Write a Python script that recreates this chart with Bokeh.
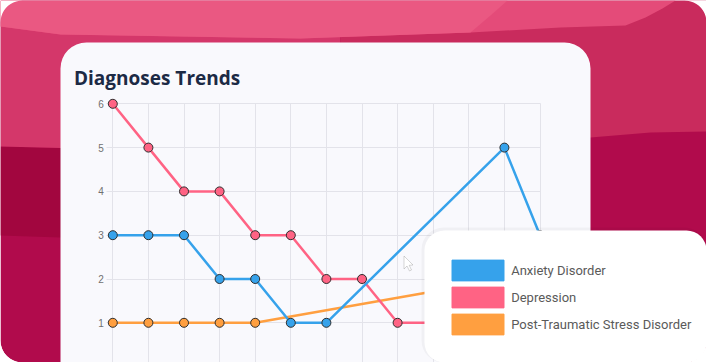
import numpy as np
from bokeh.plotting import figure
from bokeh.models import (Range1d, FixedTicker, BoxAnnotation, PolyAnnotation, Label,
                          Legend, LegendItem, ColumnDataSource)
from bokeh.core.properties import value
from bokeh.embed import file_html
from bokeh.resources import INLINE

# ---------------- data ----------------
steps = list(range(13))
anxiety = [3, 3, 3, 2, 2, 1, 1, None, None, None, None, 5, 3]
depression = [6, 5, 4, 4, 3, 3, 2, 2, 1, 1, 1, 1, 1]
ptsd = [1, 1, 1, 1, 1, None, None, None, None, None, None, 2, 2]
series_names = ["Anxiety Disorder", "Depression", "Post-Traumatic Stress Disorder"]
series_values = [anxiety, depression, ptsd]
series_colors = ["#36A2EB", "#FF6384", "#FF9F40"]
y_ticks = [1, 2, 3, 4, 5, 6]
title_text = "Diagnoses Trends"

W, H = 706, 362
OX, OY = 0, 0

# pixel geometry of the chart area (picture coordinates)
PX0, PX12 = 112.3, 539.5      # x of step 0 and step 12
PY6, PY1 = 103.3, 322.3       # y of value 6 and value 1
ux = (PX12 - PX0) / 12.0
uy = (PY1 - PY6) / 5.0
x_start = -(PX0 - OX) / ux
x_end = x_start + W / ux
y_end = 6 + (PY6 - OY) / uy
y_start = y_end - H / uy


def X(xr):
    return xr - OX


def Y(yr):
    return yr - OY


p = figure(width=W, height=H, output_backend="svg", toolbar_location=None,
           x_range=Range1d(x_start, x_end), y_range=Range1d(y_start, y_end),
           x_axis_location=None, y_axis_location=None,
           min_border=0, border_fill_color="white", background_fill_alpha=0,
           outline_line_color=None)


def box(l, r, t, b, color, radius=0, level="guide", alpha=1.0, line=None):
    return BoxAnnotation(left=X(l), right=X(r), top=Y(t), bottom=Y(b),
                         left_units="canvas", right_units="canvas",
                         top_units="canvas", bottom_units="canvas",
                         fill_color=color, fill_alpha=alpha, line_color=line,
                         border_radius=radius, level=level)


def poly(pts, color, level="guide", line=None, lw=1):
    return PolyAnnotation(xs=[X(a) for a, _ in pts], ys=[Y(b) for _, b in pts],
                          xs_units="canvas", ys_units="canvas",
                          fill_color=color, fill_alpha=1, line_color=line, line_width=lw,
                          level=level)


def corner_mask(cx, cy, r, a0, a1, corner):
    t = np.linspace(np.radians(a0), np.radians(a1), 12)
    pts = [corner] + [(cx + r * np.cos(a), cy + r * np.sin(a)) for a in t]
    return poly(pts, "white")


decor = []
# pink panel base
decor.append(box(0, 706, 0, 362, "#b10b4c", radius=22))
# dark left band
decor.append(poly([(0, 146), (60, 147.5), (200, 151), (330, 153), (330, 245), (200, 241),
                   (60, 237), (0, 235)], "#a2063f"))
# middle band left / right
decor.append(poly([(0, 0), (340, 0), (340, 150), (200, 149), (60, 147.5), (0, 146)], "#d4376a"))
decor.append(poly([(340, 0), (706, 0), (706, 131), (650, 132), (590, 137), (460, 144),
                   (340, 150)], "#c92b5d"))
# top band
decor.append(poly([(0, 0), (675, 0), (662, 8), (645, 17), (625, 25), (560, 27), (470, 32),
                   (300, 38), (60, 34), (0, 26)], "#e44b79"))
decor.append(poly([(0, 0), (507, 0), (490, 15), (470, 32), (300, 38), (60, 34), (0, 26)],
                  "#ea5882"))
# rounded corners of the panel
decor.append(corner_mask(22, 22, 22, 180, 270, (0, 0)))
decor.append(corner_mask(684, 22, 22, 270, 360, (706, 0)))
decor.append(corner_mask(22, 340, 22, 90, 180, (0, 362)))
# main card
decor.append(box(60, 590, 42, 430, "#f9f9fd", radius=26))

title = Label(x=X(73.5), y=Y(77.3), x_units="canvas", y_units="canvas", text=title_text,
              text_font="Open Sans", text_font_style="bold", text_font_size="19px",
              text_color="#1c2a45", text_baseline="alphabetic", level="guide")
decor.append(title)

# grids (drawn over the card)
p.xgrid.ticker = FixedTicker(ticks=steps)
p.ygrid.ticker = FixedTicker(ticks=y_ticks)
for g in list(p.xgrid) + list(p.ygrid):
    g.grid_line_color = "#e3e3ea"
    g.grid_line_width = 1
    g.level = "guide"
p.xgrid.bounds = (steps[0], steps[-1])
p.xgrid.cross_bounds = (y_start, y_ticks[-1])
p.ygrid.bounds = (y_ticks[0], y_ticks[-1])
p.ygrid.cross_bounds = (steps[0] - 6.0 / ux, steps[-1])
grids = list(p.xgrid) + list(p.ygrid)
p.center = decor + grids

# y tick labels, placed by the y scale
p.text(x=[steps[0]] * len(y_ticks), y=y_ticks, text=[str(t) for t in y_ticks],
       x_offset=-9, text_align="right", text_baseline="middle",
       text_font=value("Liberation Sans"), text_font_size="10px", text_color="#707070",
       level="annotation")

# series (first dataset on top)
for name, vals, color in reversed(list(zip(series_names, series_values, series_colors))):
    xs = [s for s, v in zip(steps, vals) if v is not None]
    ys = [v for v in vals if v is not None]
    src = ColumnDataSource(dict(x=xs, y=ys))
    p.line("x", "y", source=src, line_color=color, line_width=2.5, level="annotation")
    p.scatter("x", "y", source=src, size=9, fill_color=color, line_color="#2e2e2e",
              line_width=1, level="annotation")

# cursor
p.add_layout(poly([(403.5, 255.5), (403.5, 268.5), (406.5, 265.5), (409, 270.5), (411, 269.5),
                   (408.7, 264.8), (412.5, 264.5)], "white", level="overlay", line="#777777"))

# legend card
p.add_layout(box(421, 706, 227, 362, "#000000", radius=22, level="overlay", alpha=0.035))
p.add_layout(box(424, 706, 230, 362, "#ffffff", radius=20, level="overlay"))

items = []
for name, color in zip(series_names, series_colors):
    r = p.quad(left=[np.nan], right=[np.nan], top=[np.nan], bottom=[np.nan],
               fill_color=color, line_color=color, level="annotation")
    items.append(LegendItem(label=name, renderers=[r]))
# area swatches are drawn inset by 10% of the glyph box on each side
legend = Legend(items=items, location=(X(445.2), H - Y(337)), glyph_width=65, glyph_height=26,
                label_height=26, spacing=1, padding=10, margin=0, label_standoff=1,
                label_text_font="Roboto", label_text_font_size="13px",
                label_text_color="#5a5a5a", border_line_color=None,
                background_fill_alpha=0, level="overlay")
p.add_layout(legend)

open("out.html", "w").write(file_html(p, INLINE))
